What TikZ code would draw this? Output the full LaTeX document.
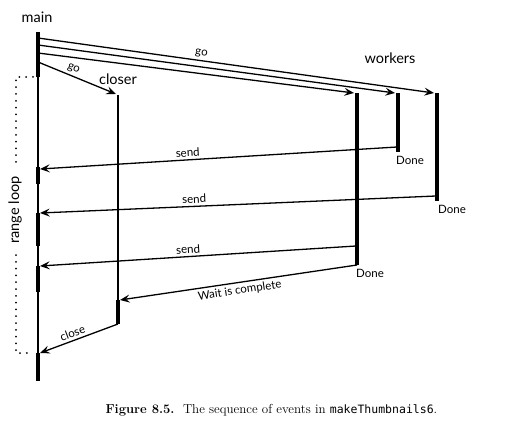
\documentclass[tikz,border=0pt]{standalone}
\usepackage{fontspec}
\newfontfamily\lblfont{Lato}
\newfontfamily\codefont{DejaVu Sans Mono}
\usetikzlibrary{arrows.meta}
\tikzset{
	life/.style={line width=1.3pt, draw=black},
	busy/.style={line width=3.2pt, draw=black},
	msg/.style={-{Stealth[length=3.4mm, width=2.8mm, inset=1.3mm]}, line width=1.3pt},
	title/.style={font=\lblfont\fontsize{14.5}{17}\selectfont},
	mlabel/.style={font=\lblfont\fontsize{11.5}{13}\selectfont, inner sep=2.5pt, sloped},
	donelabel/.style={font=\lblfont\fontsize{11.5}{13}\selectfont, anchor=west, inner sep=0pt},
	loopline/.style={line width=2pt, line cap=round, dash pattern=on 0pt off 6.8pt}
}

\begin{document}
\begin{tikzpicture}[x=1pt, y=-1pt]
	\useasboundingbox (0,0) rectangle (509,433);
	% lifelines
	\coordinate (mtop) at (38,32);
	\coordinate (mbot) at (38,381);
	\coordinate (ctop) at (118,95);
	\coordinate (cbot) at (118,324);
	\coordinate (wAtop) at (357,93);
	\coordinate (wAbot) at (357,265);
	\coordinate (wBtop) at (398,93);
	\coordinate (wBbot) at (398,152);
	\coordinate (wCtop) at (437,93);
	\coordinate (wCbot) at (437,201);
	\draw[life] (mtop) -- (mbot);
	\draw[life] (ctop) -- (cbot);
	\draw[busy] (mtop) -- (38,77);
	\foreach \ya/\yb in {167/184, 213/246, 266/292, 353/381}
		\draw[busy] (38,\ya) -- (38,\yb);
	\draw[busy] (118,300) -- (cbot);
	\draw[busy] (wAtop) -- (wAbot);
	\draw[busy] (wBtop) -- (wBbot);
	\draw[busy] (wCtop) -- (wCbot);
	% titles
	\node[title] (main) at (37,17) {main};
	\node[title] (closer) at (118,79) {closer};
	\node[title] (workers) at (390,58) {workers};
	% go
	\draw[msg] (38,38) -- node[mlabel, above, pos=0.41] {go} (434,93);
	\draw[msg] (38,45) -- (395,93);
	\draw[msg] (38,53) -- (354,93);
	\draw[msg] (38,62) -- node[mlabel, above, pos=0.42] {go} (116,94);
	% send
	\draw[msg] (397,147) -- node[mlabel, above, pos=0.585] {send} (40,169);
	\draw[msg] (436,196) -- node[mlabel, above, pos=0.61] {send} (40,213);
	\draw[msg] (356,246) -- node[mlabel, above, pos=0.53] {send} (40,266);
	\draw[msg] (wAbot) -- node[mlabel, below, pos=0.5] {Wait is complete} (120,300);
	\draw[msg] (cbot) -- node[mlabel, above, pos=0.55] {close} (40,353);
	% done
	\node[donelabel] (doneB) at (396,160) {Done};
	\node[donelabel] (doneC) at (438,209) {Done};
	\node[donelabel] (doneA) at (356,273) {Done};
	% range loop
	\draw[loopline] (33,77) -- (16,77) -- (16,166);
	\draw[loopline] (16,255) -- (16,353) -- (33,353);
	\node[title, rotate=90] (loop) at (15,210) {range loop};
	% caption
	\node[anchor=west, font=\fontsize{13}{16}\selectfont] (caption) at (102,410)
		{\textbf{Figure 8.5.}\ \ The sequence of events in {\codefont\fontsize{11.5}{14}\selectfont makeThumbnails6}.};
\end{tikzpicture}
\end{document}
